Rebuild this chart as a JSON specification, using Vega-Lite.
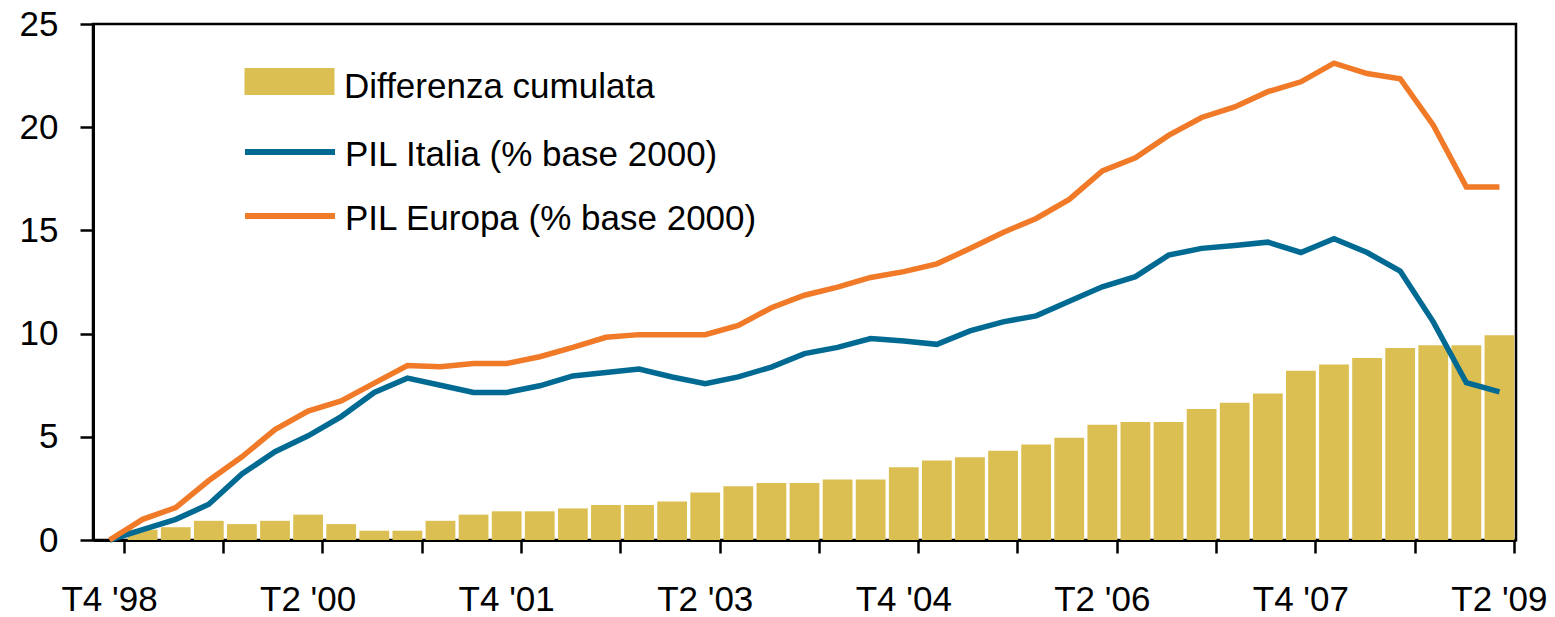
{
  "$schema": "https://vega.github.io/schema/vega-lite/v6.json",
  "width": 1423,
  "height": 516,
  "autosize": {"type": "none"},
  "padding": {"left": 93, "top": 24, "right": 39, "bottom": 77},
  "background": "white",
  "config": {
    "font": "Liberation Sans",
    "view": {"stroke": "black", "strokeWidth": 2.5},
    "axis": {"labelFont": "Liberation Sans", "labelColor": "black", "domainColor": "black", "tickColor": "black", "grid": false}
  },
  "data": {"values": [
    {"q": "T4 '98", "diff": 0, "italia": 0, "europa": 0},
    {"q": "T1 '99", "diff": 0.5, "italia": 0.5, "europa": 1.0},
    {"q": "T2 '99", "diff": 0.62, "italia": 1.0, "europa": 1.57},
    {"q": "T3 '99", "diff": 0.93, "italia": 1.73, "europa": 2.88},
    {"q": "T4 '99", "diff": 0.77, "italia": 3.2, "europa": 4.03},
    {"q": "T1 '00", "diff": 0.93, "italia": 4.28, "europa": 5.35},
    {"q": "T2 '00", "diff": 1.23, "italia": 5.05, "europa": 6.25},
    {"q": "T3 '00", "diff": 0.77, "italia": 5.98, "europa": 6.74},
    {"q": "T4 '00", "diff": 0.45, "italia": 7.15, "europa": 7.6},
    {"q": "T1 '01", "diff": 0.45, "italia": 7.84, "europa": 8.45},
    {"q": "T2 '01", "diff": 0.93, "italia": 7.5, "europa": 8.4},
    {"q": "T3 '01", "diff": 1.23, "italia": 7.15, "europa": 8.55},
    {"q": "T4 '01", "diff": 1.39, "italia": 7.15, "europa": 8.55},
    {"q": "T1 '02", "diff": 1.39, "italia": 7.47, "europa": 8.88},
    {"q": "T2 '02", "diff": 1.53, "italia": 7.95, "europa": 9.33},
    {"q": "T3 '02", "diff": 1.7, "italia": 8.12, "europa": 9.82},
    {"q": "T4 '02", "diff": 1.7, "italia": 8.28, "europa": 9.95},
    {"q": "T1 '03", "diff": 1.86, "italia": 7.9, "europa": 9.95},
    {"q": "T2 '03", "diff": 2.3, "italia": 7.57, "europa": 9.95},
    {"q": "T3 '03", "diff": 2.6, "italia": 7.9, "europa": 10.4},
    {"q": "T4 '03", "diff": 2.76, "italia": 8.38, "europa": 11.25},
    {"q": "T1 '04", "diff": 2.76, "italia": 9.03, "europa": 11.86},
    {"q": "T2 '04", "diff": 2.93, "italia": 9.33, "europa": 12.25},
    {"q": "T3 '04", "diff": 2.93, "italia": 9.76, "europa": 12.72},
    {"q": "T4 '04", "diff": 3.52, "italia": 9.64, "europa": 13.0},
    {"q": "T1 '05", "diff": 3.85, "italia": 9.48, "europa": 13.38},
    {"q": "T2 '05", "diff": 4.01, "italia": 10.13, "europa": 14.12},
    {"q": "T3 '05", "diff": 4.33, "italia": 10.57, "europa": 14.9},
    {"q": "T4 '05", "diff": 4.63, "italia": 10.86, "europa": 15.58},
    {"q": "T1 '06", "diff": 4.95, "italia": 11.57, "europa": 16.5},
    {"q": "T2 '06", "diff": 5.58, "italia": 12.27, "europa": 17.88},
    {"q": "T3 '06", "diff": 5.72, "italia": 12.76, "europa": 18.52},
    {"q": "T4 '06", "diff": 5.72, "italia": 13.8, "europa": 19.6},
    {"q": "T1 '07", "diff": 6.35, "italia": 14.13, "europa": 20.47},
    {"q": "T2 '07", "diff": 6.65, "italia": 14.27, "europa": 20.98},
    {"q": "T3 '07", "diff": 7.1, "italia": 14.43, "europa": 21.72},
    {"q": "T4 '07", "diff": 8.2, "italia": 13.93, "europa": 22.2},
    {"q": "T1 '08", "diff": 8.5, "italia": 14.6, "europa": 23.1},
    {"q": "T2 '08", "diff": 8.82, "italia": 13.93, "europa": 22.6},
    {"q": "T3 '08", "diff": 9.3, "italia": 13.03, "europa": 22.35},
    {"q": "T4 '08", "diff": 9.43, "italia": 10.57, "europa": 20.1},
    {"q": "T1 '09", "diff": 9.43, "italia": 7.62, "europa": 17.1},
    {"q": "T2 '09", "diff": 9.92, "italia": 7.18, "europa": 17.1}
  ]},
  "layer": [
    {
      "mark": {"type": "bar"},
      "encoding": {
        "x": {
          "field": "q", "type": "ordinal", "sort": null,
          "scale": {"paddingInner": 0.1, "paddingOuter": 0.05},
          "axis": {
            "title": null,
            "values": ["T4 '98", "T3 '99", "T2 '00", "T1 '01", "T4 '01", "T3 '02", "T2 '03", "T1 '04", "T4 '04", "T3 '05", "T2 '06", "T1 '07", "T4 '07", "T3 '08", "T2 '09"],
            "bandPosition": 1,
            "tickSize": 13, "tickWidth": 2.5, "domainWidth": 3,
            "labelFontSize": 35, "labelPadding": 57, "labelOffset": 0, "labelBaseline": "alphabetic",
            "labelAngle": 0, "labelOverlap": false, "labelBound": false, "labelFlush": false, "labelLimit": 0,
            "labelExpr": "test(/^T[24]/, datum.label) ? datum.label : ''"
          }
        },
        "y": {
          "field": "diff", "type": "quantitative",
          "scale": {"domain": [0, 25], "nice": false},
          "axis": {"title": null, "values": [0, 5, 10, 15, 20, 25], "tickSize": 13, "tickWidth": 2.5, "domainWidth": 3, "labelFontSize": 35, "labelPadding": 22, "labelFlush": false}
        },
        "fill": {
          "datum": "Differenza cumulata",
          "scale": {"domain": ["Differenza cumulata"], "range": ["#DCBF52"]},
          "legend": {
            "title": null, "orient": "none", "legendX": 179, "legendY": 40, "direction": "vertical",
            "symbolType": "M-3,-0.9H3V0.9H-3Z", "symbolSize": 900, "symbolStrokeWidth": 0,
            "labelFontSize": 35, "labelFont": "Liberation Sans", "labelColor": "black", "labelOffset": 37, "labelLimit": 1000, "padding": 0,
            "encode": {"labels": {"update": {"dy": {"value": 5}}}}
          }
        }
      }
    },
    {
      "mark": {"type": "line", "strokeWidth": 5.5},
      "encoding": {
        "x": {"field": "q", "type": "ordinal", "sort": null},
        "y": {"field": "italia", "type": "quantitative"},
        "stroke": {
          "datum": "PIL Italia (% base 2000)",
          "scale": {"domain": ["PIL Italia (% base 2000)", "PIL Europa (% base 2000)"], "range": ["#006A93", "#F07A28"]},
          "legend": {
            "title": null, "orient": "none", "legendX": 179, "legendY": 110, "direction": "vertical",
            "symbolType": "M-3,0H3", "symbolSize": 900, "symbolStrokeWidth": 6,
            "labelFontSize": 35, "labelFont": "Liberation Sans", "labelColor": "black", "labelOffset": 37, "labelLimit": 1000, "padding": 0, "rowPadding": 25,
            "encode": {"labels": {"update": {"dy": {"value": 3}}}}
          }
        }
      }
    },
    {
      "mark": {"type": "line", "strokeWidth": 5.5},
      "encoding": {
        "x": {"field": "q", "type": "ordinal", "sort": null},
        "y": {"field": "europa", "type": "quantitative"},
        "stroke": {"datum": "PIL Europa (% base 2000)"}
      }
    }
  ]
}
